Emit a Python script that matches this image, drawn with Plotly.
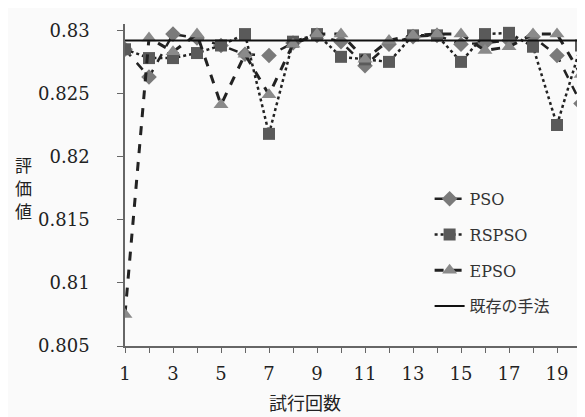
import plotly.graph_objects as go

trials = list(range(1, 21))
pso = [0.8285, 0.8263, 0.8297, 0.8294, 0.8288, 0.8281, 0.8280, 0.8290, 0.8296, 0.8291,
       0.8272, 0.8289, 0.8295, 0.8296, 0.8289, 0.8290, 0.8292, 0.8295, 0.8280, 0.8242]
rspso = [0.8285, 0.8278, 0.8278, 0.8282, 0.8288, 0.8297, 0.8218, 0.8291, 0.8297, 0.8279,
         0.8277, 0.8275, 0.8296, 0.8296, 0.8275, 0.8297, 0.8298, 0.8287, 0.8225, 0.8288]
epso = [0.8075, 0.8294, 0.8283, 0.8297, 0.8241, 0.8281, 0.8249, 0.8289, 0.8297, 0.8297,
        0.8277, 0.8292, 0.8296, 0.8297, 0.8297, 0.8284, 0.8287, 0.8297, 0.8297, 0.8265]
baseline = [0.8292] * 20
y_ticks = [0.805, 0.81, 0.815, 0.82, 0.825, 0.83]
y_labels = ["0.805", "0.81", "0.815", "0.82", "0.825", "0.83"]
x_ticks = [1, 3, 5, 7, 9, 11, 13, 15, 17, 19]
y_title_chars = ["評", "価", "値"]

serif = "DejaVu Serif, Noto Sans CJK JP"
cjk = "Noto Sans CJK JP"

fig = go.Figure()
fig.add_trace(go.Scatter(x=trials, y=pso, name="PSO", mode="lines+markers",
                         legendgroup="a",
                         line=dict(color="#222", width=2.5, dash="dash"),
                         marker=dict(symbol="diamond", size=12, color="#7a7a7a")))
fig.add_trace(go.Scatter(x=trials, y=rspso, name="RSPSO", mode="lines+markers",
                         legendgroup="b",
                         line=dict(color="#222", width=2.5, dash="dot"),
                         marker=dict(symbol="square", size=12, color="#5a5a5a")))
fig.add_trace(go.Scatter(x=trials, y=epso, name="EPSO", mode="lines+markers",
                         legendgroup="c",
                         line=dict(color="#222", width=3, dash="dash"),
                         marker=dict(symbol="triangle-up", size=13, color="#8a8a8a")))
fig.add_trace(go.Scatter(x=trials, y=baseline, name="既存の手法", mode="lines",
                         legendgroup="d",
                         line=dict(color="#111", width=2)))

annotations = [dict(text="試行回数", xref="paper", yref="paper",
                    x=0.395, y=-0.173, xanchor="center", yanchor="middle",
                    showarrow=False, font=dict(family=cjk, size=18, color="#222"))]
for ch, yp in zip(y_title_chars, [0.563, 0.492, 0.421]):
    annotations.append(dict(text=ch, xref="paper", yref="paper",
                            x=-0.222, y=yp, xanchor="center", yanchor="middle",
                            showarrow=False, font=dict(family=cjk, size=17, color="#222")))

fig.update_layout(
    width=585, height=417,
    margin=dict(l=117, r=12, t=13, b=79),
    paper_bgcolor="#fafafa", plot_bgcolor="#fafafa",
    font=dict(family=serif, size=17, color="#222"),
    showlegend=True,
    legend=dict(x=0.668, y=0.51, xanchor="left", yanchor="top",
                bgcolor="rgba(0,0,0,0)", font=dict(family=serif, size=16, color="#333"),
                traceorder="grouped", tracegroupgap=12),
    xaxis=dict(range=[1, 20], tickvals=x_ticks, showgrid=False, zeroline=False,
               showline=True, linecolor="#666", linewidth=1.5,
               ticks="outside", ticklen=5, tickcolor="#666", ticklabelstandoff=6,
               minor=dict(dtick=1, ticks="outside", ticklen=5, tickcolor="#666"),
               tickfont=dict(family=serif, size=18, color="#222")),
    yaxis=dict(range=[0.805, 0.8305], tickvals=y_ticks, ticktext=y_labels,
               showgrid=False, zeroline=False,
               showline=True, linecolor="#666", linewidth=1.5,
               ticks="outside", ticklen=6, tickcolor="#666", ticklabelstandoff=24,
               tickfont=dict(family=serif, size=18, color="#222")),
    annotations=annotations,
)

fig.write_html("out.html")
